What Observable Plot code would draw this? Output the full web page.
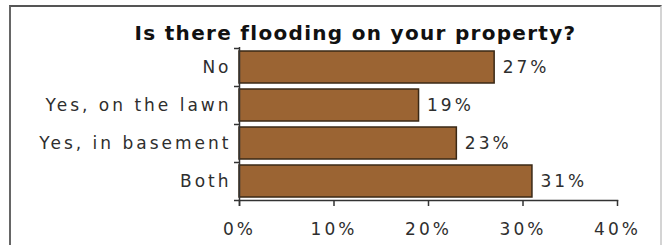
<!DOCTYPE html>
<html><head><meta charset="utf-8">
<script src="https://cdn.jsdelivr.net/npm/d3@7"></script>
<script src="https://cdn.jsdelivr.net/npm/@observablehq/plot@0.6"></script>
<style>
body{margin:0;background:#fff;overflow:hidden;}
#wrap{position:relative;width:664px;height:245px;}
#box{position:absolute;left:9px;top:5px;width:653px;height:270px;border-top:2px solid #555;border-left:2px solid #666;border-right:2px solid #d4d4d4;box-sizing:border-box;}
#chart{position:absolute;left:0;top:0;}
</style></head><body><div id="wrap"><div id="box"></div><div id="chart"></div></div>
<script>
const title = "Is there flooding on your property?";
const categories = ["No", "Yes, on the lawn", "Yes, in basement", "Both"];
const values = [27, 19, 23, 31];
const xTicks = [0, 10, 20, 30, 40];

const data = categories.map((c, i) => ({category: c, value: values[i]}));
const font = "'DejaVu Sans', Verdana, sans-serif";

const chart = Plot.plot({
  width: 664, height: 245,
  marginLeft: 239, marginRight: 47, marginTop: 47, marginBottom: 45,
  style: {fontFamily: font, fontSize: "17px", color: "#333", background: "transparent", letterSpacing: "3px"},
  x: {domain: [0, 40], ticks: xTicks, tickFormat: d => d + "%"},
  y: {domain: categories, paddingInner: 0.16, paddingOuter: 0.08, label: null},
  marks: [
    Plot.barX(data, {x: "value", y: "category", fill: "#9b6433", stroke: "#3a2816", strokeWidth: 1.5}),
    Plot.frame({anchor: "bottom", stroke: "#333", strokeWidth: 1.5}),
    Plot.ruleX([0], {stroke: "#333", strokeWidth: 1.5, insetBottom: -6}),
    Plot.axisX({ticks: xTicks, tickFormat: d => d + "%", tickSize: 6, tickPadding: 16, stroke: "#333", strokeWidth: 1.5, label: null, fill: "#2e2e2e"}),
    Plot.axisY({tickSize: 0, tickPadding: 8, label: null, fill: "#2e2e2e"}),
    Plot.axisY({tickSize: 5, text: null, dy: 19, stroke: "#333", strokeWidth: 1.5, label: null}),
    Plot.axisY([categories[0]], {tickSize: 5, text: null, dy: -19, stroke: "#333", strokeWidth: 1.5, label: null}),
    Plot.text(data, {x: "value", y: "category", text: d => d.value + "%", textAnchor: "start", dx: 8, fill: "#2e2e2e"}),
    Plot.text([title], {frameAnchor: "top-left", dx: 116, dy: -14, fontWeight: "bold", fontSize: 20, fill: "#111", textAnchor: "middle", lineAnchor: "middle"})
  ]
});
d3.select(chart).selectAll("text")
  .filter(function() { return this.textContent === title; })
  .style("letter-spacing", "1.3px");
document.getElementById("chart").appendChild(chart);
</script>
</body></html>
